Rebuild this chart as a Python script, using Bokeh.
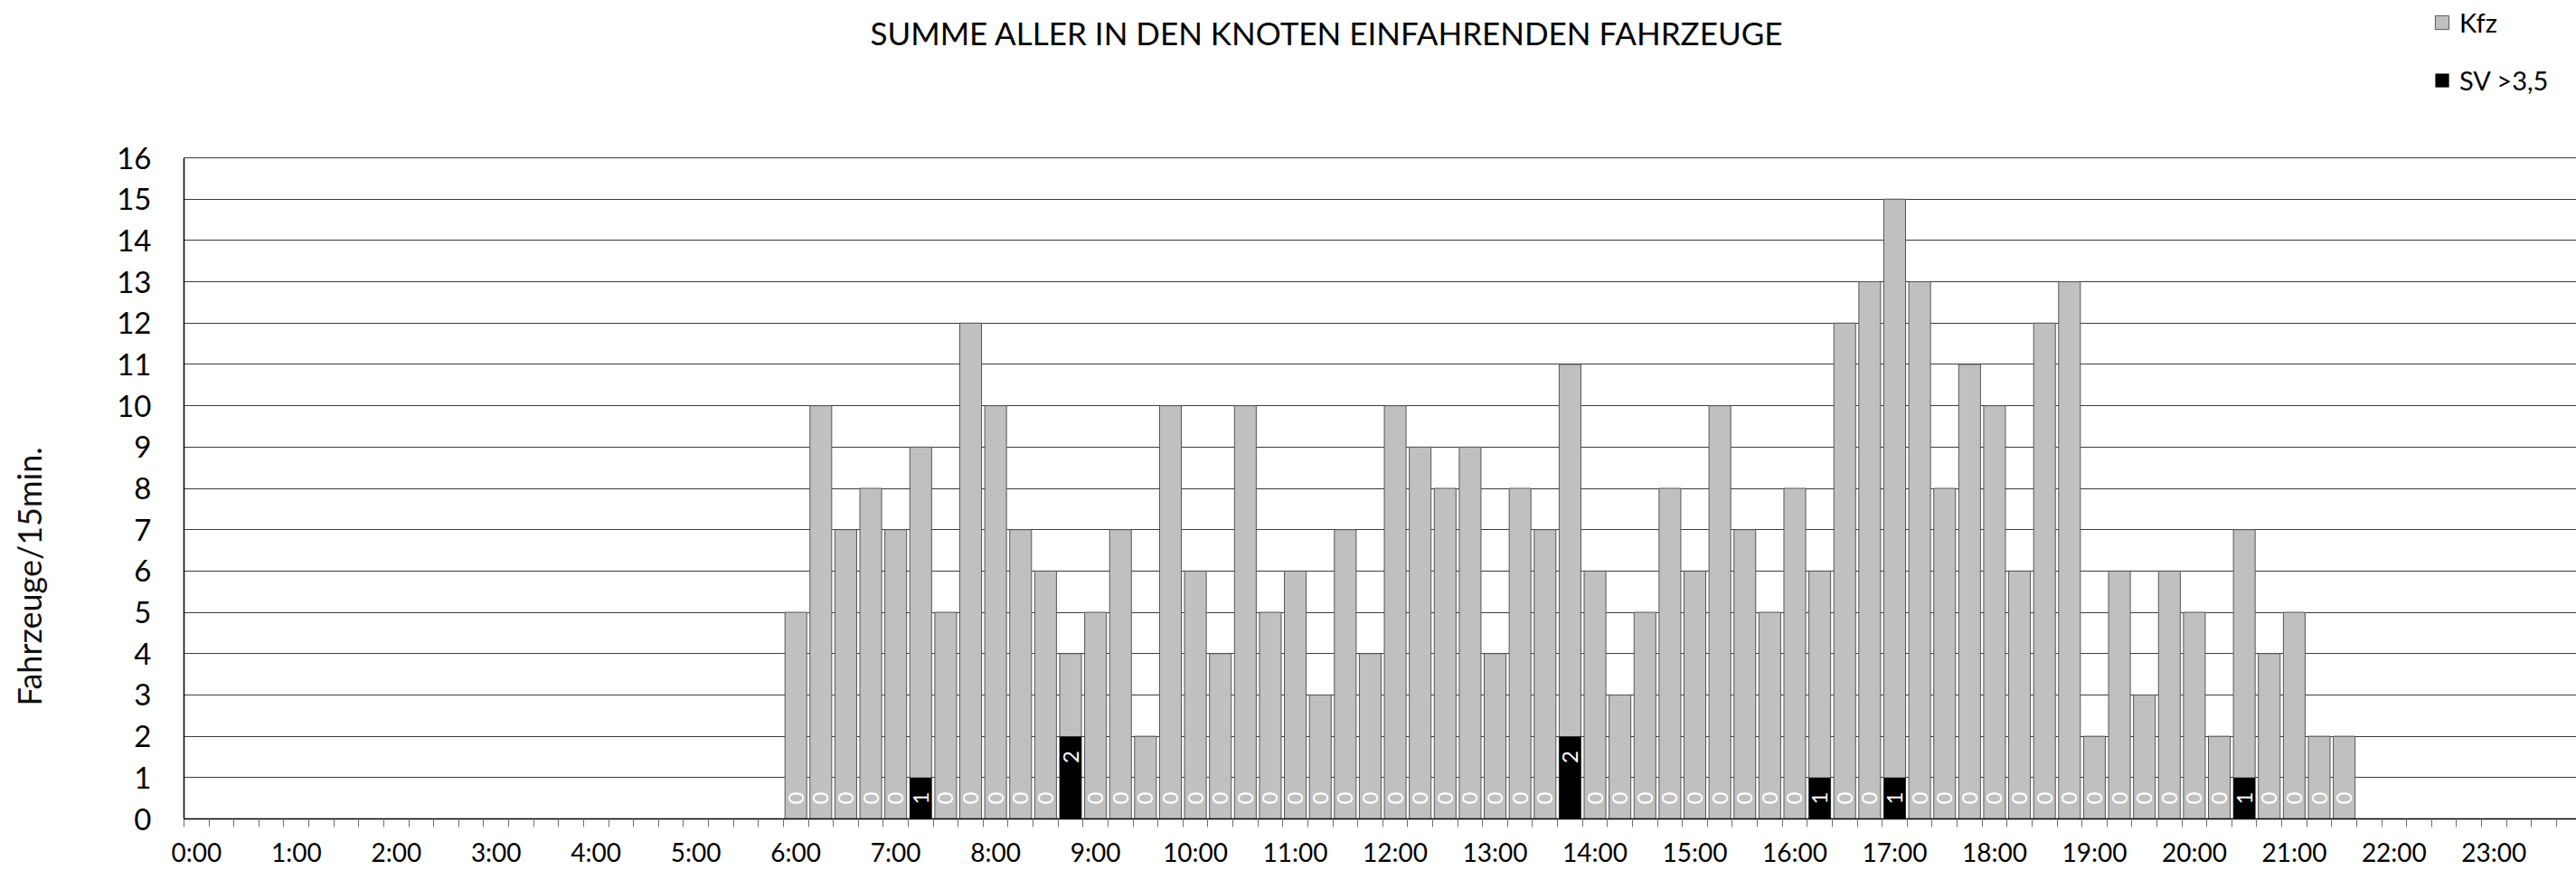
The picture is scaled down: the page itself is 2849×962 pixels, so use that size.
import math
from bokeh.plotting import figure
from bokeh.models import (ColumnDataSource, Range1d, FixedTicker, Label, Legend,
                          LegendItem, CustomJSTickFormatter, LinearAxis)
from bokeh.core.properties import value
from bokeh.embed import file_html
from bokeh.resources import INLINE

# ---------------- data ----------------
title_text = "SUMME ALLER IN DEN KNOTEN EINFAHRENDEN FAHRZEUGE"
y_title = "Fahrzeuge/15min."
hour_labels = [f"{h}:00" for h in range(24)]
y_ticks = list(range(17))
first_slot = "6:00"          # first quarter-hour with counted traffic
kfz = [5, 10, 7, 8, 7, 9, 5, 12, 10, 7, 6, 4, 5, 7, 2, 10,
       6, 4, 10, 5, 6, 3, 7, 4, 10, 9, 8, 9, 4, 8, 7, 11,
       6, 3, 5, 8, 6, 10, 7, 5, 8, 6, 12, 13, 15, 13, 8, 11,
       10, 6, 12, 13, 2, 6, 3, 6, 5, 2, 7, 4, 5, 2, 2]
sv = [0, 0, 0, 0, 0, 1, 0, 0, 0, 0, 0, 2, 0, 0, 0, 0,
      0, 0, 0, 0, 0, 0, 0, 0, 0, 0, 0, 0, 0, 0, 0, 2,
      0, 0, 0, 0, 0, 0, 0, 0, 0, 1, 0, 0, 1, 0, 0, 0,
      0, 0, 0, 0, 0, 0, 0, 0, 0, 0, 1, 0, 0, 0, 0]
legend_labels = ["Kfz", "SV >3,5"]

# ---------------- layout ----------------
FONT = "Lato"
W, H = 2849, 962
BL, BB = 203, 57
GRID_TOP = 174               # pixel row of the 16-line; the area above holds title + legend
SLOT_PX = 27.62
x_end = (W - BL) / SLOT_PX
frame_h = H - BB
y_end = y_ticks[-1] * frame_h / (frame_h - GRID_TOP)

h0, m0 = first_slot.split(":")
start = int(h0) * 4 + int(m0) // 15
xs = [start + i + 0.5 for i in range(len(kfz))]
label_y = [s - 0.5 if s > 0 else 0.5 for s in sv]
src = ColumnDataSource(dict(x=xs, kfz=kfz, sv=sv, ly=label_y,
                            txt=[str(s) for s in sv]))

p = figure(width=W, height=H, output_backend="svg", toolbar_location=None,
           title_location=None,
           x_range=Range1d(0, x_end), y_range=Range1d(0, y_end),
           min_border_left=BL, min_border_right=0, min_border_top=0,
           min_border_bottom=BB, background_fill_color="white",
           border_fill_color="white")
p.outline_line_color = None

# grid
p.xgrid.visible = False
p.ygrid.ticker = FixedTicker(ticks=y_ticks)
p.ygrid.grid_line_color = "#3c3c3c"
p.ygrid.grid_line_width = 1

# y axis (line only over the value range 0..16)
p.yaxis.ticker = FixedTicker(ticks=y_ticks)
p.yaxis.bounds = (y_ticks[0], y_ticks[-1])
p.yaxis.axis_line_color = "black"
p.yaxis.axis_line_width = 1.5
p.yaxis.major_tick_line_color = None
p.yaxis.major_tick_out = 0
p.yaxis.major_tick_in = 0
p.yaxis.minor_tick_line_color = None
p.yaxis.major_label_standoff = 36
p.yaxis.major_label_text_font = FONT
p.yaxis.major_label_text_font_size = "33px"
p.yaxis.major_label_text_color = "black"

# second, label-only axis carrying the y title (placed lower than centre via no-break spaces)
ttl_axis = LinearAxis(ticker=FixedTicker(ticks=[]), axis_line_color=None,
                      major_tick_line_color=None, minor_tick_line_color=None,
                      major_tick_out=0, major_tick_in=0, minor_tick_out=0,
                      minor_tick_in=0,
                      axis_label=y_title + "\u00a0" * 40,
                      axis_label_standoff=73,
                      axis_label_text_font=FONT,
                      axis_label_text_font_size="36px",
                      axis_label_text_font_style="normal",
                      axis_label_text_color="#111111")
p.add_layout(ttl_axis, "left")

# x axis
p.xaxis.ticker = FixedTicker(ticks=[4 * h + 0.5 for h in range(24)],
                             minor_ticks=list(range(97)))
p.xaxis.formatter = CustomJSTickFormatter(args=dict(labels=hour_labels),
                                          code="return labels[Math.floor(tick / 4)];")
p.xaxis.axis_line_color = "black"
p.xaxis.axis_line_width = 1.5
p.xaxis.major_tick_line_color = None
p.xaxis.major_tick_out = 0
p.xaxis.major_tick_in = 0
p.xaxis.minor_tick_line_color = "#707070"
p.xaxis.minor_tick_out = 9
p.xaxis.minor_tick_in = 0
p.xaxis.major_label_standoff = 10
p.xaxis.major_label_text_font = FONT
p.xaxis.major_label_text_font_size = "28px"
p.xaxis.major_label_text_color = "black"

# bars
r_kfz = p.vbar(x="x", top="kfz", bottom=0, width=0.87, source=src,
               fill_color="#C0C0C0", line_color="#555555", line_width=1)
r_sv = p.vbar(x="x", top="sv", bottom=0, width=0.87, source=src,
              fill_color="black", line_color=None)
p.text(x="x", y="ly", text="txt", source=src, angle=math.pi / 2,
       text_color="white", text_font=value(FONT), text_font_size="24px",
       text_align="center", text_baseline="middle")

# title (inside the frame's upper strip)
p.add_layout(Label(x=1467 - BL, y=frame_h - 35, x_units="screen", y_units="screen",
                   text=title_text, text_font=FONT, text_font_size="35px",
                   text_color="black", text_align="center",
                   text_baseline="alphabetic"))

# legend (location = bottom-left corner, from the frame's bottom-left)
legend = Legend(items=[LegendItem(label=legend_labels[0], renderers=[r_kfz]),
                       LegendItem(label=legend_labels[1], renderers=[r_sv])],
                location=(2691 - BL, frame_h - 105.5),
                orientation="vertical", padding=0, margin=0,
                border_line_color=None, background_fill_alpha=0,
                glyph_width=19, glyph_height=19, label_height=19,
                spacing=29, label_standoff=10,
                label_text_font=FONT, label_text_font_size="29px",
                label_text_color="black")
p.add_layout(legend)

open("out.html", "w").write(file_html(p, INLINE))
